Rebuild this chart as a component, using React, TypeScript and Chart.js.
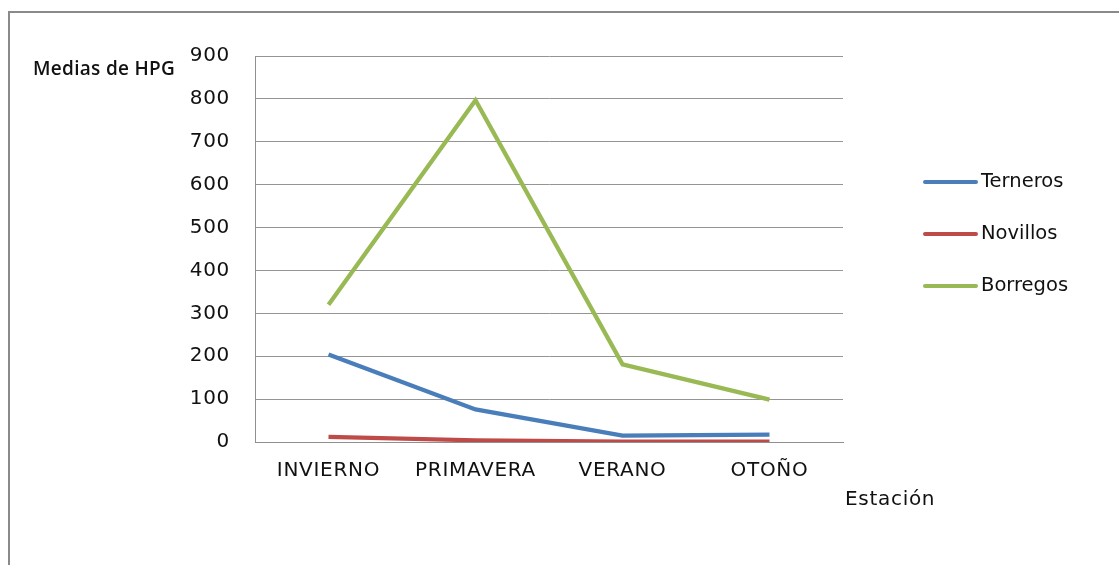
import React, { useEffect, useRef } from "react";
import { Chart, registerables } from "chart.js";

Chart.register(...registerables);

// Seasons along the x axis
const categories = ["INVIERNO", "PRIMAVERA", "VERANO", "OTOÑO"];

// Mean HPG per season
const terneros = [204, 76, 15, 17];
const novillos = [12, 4, 1, 1];
const borregos = [320, 797, 181, 99];

const seriesNames = ["Terneros", "Novillos", "Borregos"];
const seriesColors = ["#4a7ebb", "#be4b48", "#98b954"];

const yTitle = "Medias de HPG";
const xTitle = "Estación";

const FONT = "'DejaVu Sans', 'Open Sans', sans-serif";
const TITLE_FONT = "'Open Sans', 'DejaVu Sans', sans-serif";

const W = 1119;
const H = 565;

// Frame, axis titles and the right-hand legend
const decorations = {
  id: "decorations",
  beforeDraw(chart: any) {
    const ctx = chart.ctx;
    ctx.save();
    ctx.fillStyle = "#ffffff";
    ctx.fillRect(0, 0, W, H);
    ctx.strokeStyle = "#8a8a8a";
    ctx.lineWidth = 2;
    ctx.beginPath();
    ctx.moveTo(9, H + 5);
    ctx.lineTo(9, 12);
    ctx.lineTo(W + 5, 12);
    ctx.stroke();
    ctx.restore();
    // slightly wider tick labels
    ctx.letterSpacing = "0.7px";
  },
  beforeDatasetsDraw(chart: any) {
    chart.ctx.letterSpacing = "0px";
  },
  afterDraw(chart: any) {
    const ctx = chart.ctx;
    ctx.save();
    ctx.fillStyle = "#111111";
    ctx.textBaseline = "middle";
    ctx.textAlign = "left";

    ctx.letterSpacing = "0.3px";
    ctx.font = `600 19px ${TITLE_FONT}`;
    ctx.fillText(yTitle, 33, 70);

    ctx.letterSpacing = "0.7px";
    ctx.font = `20px ${FONT}`;
    ctx.fillText(xTitle, 845, 500);

    ctx.letterSpacing = "0px";
    const legendY = [182, 234, 286];
    ctx.font = `19.5px ${FONT}`;
    chart.data.datasets.forEach((ds: any, i: number) => {
      ctx.strokeStyle = ds.borderColor;
      ctx.lineWidth = 4;
      ctx.lineCap = "round";
      ctx.beginPath();
      ctx.moveTo(925, legendY[i]);
      ctx.lineTo(976, legendY[i]);
      ctx.stroke();
      ctx.fillStyle = "#111111";
      ctx.fillText(ds.label, 981, legendY[i]);
    });
    ctx.restore();
  },
};

export default function App() {
  const canvasRef = useRef<HTMLCanvasElement | null>(null);

  useEffect(() => {
    const canvas = canvasRef.current;
    if (!canvas) return;
    const values = [terneros, novillos, borregos];
    const chart = new Chart(canvas, {
      type: "line",
      data: {
        labels: categories,
        datasets: seriesNames.map((name, i) => ({
          label: name,
          data: values[i],
          borderColor: seriesColors[i],
          backgroundColor: seriesColors[i],
          borderWidth: 4.3,
          pointRadius: 0,
          tension: 0,
          fill: false,
        })),
      },
      options: {
        animation: false,
        responsive: false,
        devicePixelRatio: 1,
        layout: { padding: { left: 0, top: 56, right: 276, bottom: 0 } },
        plugins: {
          legend: { display: false },
          tooltip: { enabled: false },
        },
        scales: {
          x: {
            offset: true,
            grid: { display: false, drawTicks: false },
            border: { display: true, color: "#8f8f8f", width: 1 },
            ticks: {
              color: "#111111",
              font: { family: FONT, size: 20 },
              padding: 17,
              maxRotation: 0,
            },
            afterFit(scale: any) {
              scale.height = 123;
            },
          },
          y: {
            min: 0,
            max: 900,
            grid: { color: "#959595", lineWidth: 1, drawTicks: false },
            border: { display: true, color: "#8f8f8f", width: 1 },
            ticks: {
              stepSize: 100,
              color: "#111111",
              font: { family: FONT, size: 20 },
              padding: 25,
            },
            afterFit(scale: any) {
              scale.width = 255;
            },
          },
        },
      },
      plugins: [decorations],
    });
    return () => chart.destroy();
  }, []);

  return (
    <div style={{ position: "fixed", left: 0, top: 0, width: W, height: H, background: "#fff" }}>
      <canvas ref={canvasRef} width={W} height={H} style={{ display: "block" }} />
    </div>
  );
}
